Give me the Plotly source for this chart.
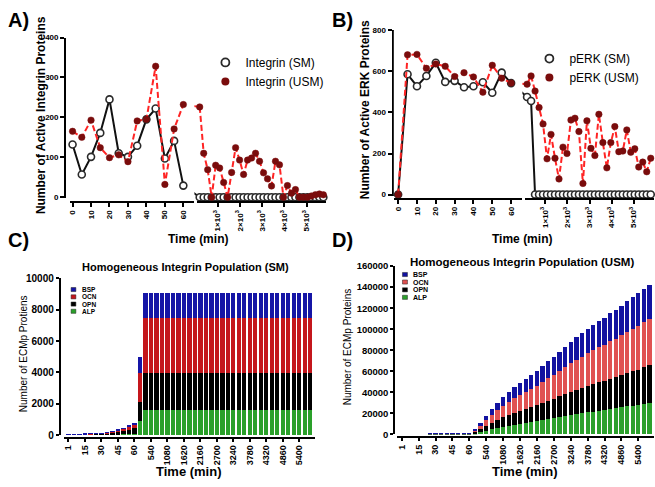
import plotly.graph_objects as go

W, H = 655, 487
FONT = "Liberation Sans, Arial, sans-serif"

# ---------------- data ----------------
t_early = [0, 5, 10, 15, 20, 25, 30, 35, 40, 45, 50, 55, 60]
t_late = [180, 360, 540, 720, 900, 1080, 1260, 1440, 1620, 1800, 1980, 2160, 2340, 2520, 2700, 2880,
          3060, 3240, 3420, 3600, 3780, 3960, 4140, 4320, 4500, 4680, 4860, 5040, 5220, 5400, 5580, 5760]

a_sm_early = [132, 57, 101, 161, 245, 110, 101, 129, 195, 222, 97, 141, 29]
a_usm_early = [165, 150, 193, 124, 99, 106, 89, 191, 195, 328, 32, 171, 232]
a_sm_late = [0, 0, 0, 0, 0, 0, 0, 0, 0, 0, 0, 0, 0, 0, 0, 0,
             0, 0, 0, 0, 0, 0, 0, 0, 0, 0, 0, 0, 0, 0, 0, 0]
a_usm_late = [226, 110, 69, 0, 80, 73, 37, 0, 62, 124, 93, 57, 93, 98, 110, 90,
              61, 46, 28, 90, 81, 0, 29, 10, 19, 0, 0, 0, 3, 6, 8, 6]

b_sm_early = [0, 586, 528, 578, 642, 549, 554, 523, 528, 547, 496, 594, 543]
b_usm_early = [0, 681, 683, 615, 636, 625, 575, 594, 573, 499, 630, 567, 543]
b_sm_late = [475, 456, 0, 0, 0, 0, 0, 0, 0, 0, 0, 0, 0, 0, 0, 0,
             0, 0, 0, 0, 0, 0, 0, 0, 0, 0, 0, 0, 0, 0, 0, 0]
b_usm_late = [538, 578, 504, 424, 344, 174, 293, 177, 76, 231, 200, 363, 372, 307, 54, 359,
              225, 190, 391, 253, 130, 253, 331, 209, 212, 315, 206, 223, 134, 158, 111, 177]

late_ticks = [1000, 2000, 3000, 4000, 5000]
late_ticktext = ["1×10<sup>3</sup>", "2×10<sup>3</sup>", "3×10<sup>3</sup>", "4×10<sup>3</sup>", "5×10<sup>3</sup>"]

bar_times = ["1", "5", "10", "15", "20", "25", "30", "35", "40", "45", "50", "55", "60",
             "180", "360", "540", "720", "900", "1080", "1260", "1440", "1620", "1800", "1980",
             "2160", "2340", "2520", "2700", "2880", "3060", "3240", "3420", "3600", "3780",
             "3960", "4140", "4320", "4500", "4680", "4860", "5040", "5220", "5400", "5580", "5760"]
bar_tick_labels = ["1", "15", "30", "45", "60", "540", "1080", "1620", "2160", "2700",
                   "3240", "3780", "4320", "4860", "5400"]

c_alp = [5, 5, 6, 7, 8, 10, 12, 20, 30, 40, 55, 70, 100, 890,
         1600, 1600, 1600, 1600, 1600, 1600, 1600, 1600, 1600, 1600, 1600, 1600, 1600, 1600, 1600, 1600,
         1600, 1600, 1600, 1600, 1600, 1600, 1600, 1600, 1600, 1600, 1600, 1600, 1600, 1600, 1600]
c_opn = [20, 20, 22, 25, 30, 40, 50, 75, 110, 150, 200, 260, 330, 1245,
         2350, 2350, 2350, 2350, 2350, 2350, 2350, 2350, 2350, 2350, 2350, 2350, 2350, 2350, 2350, 2350,
         2350, 2350, 2350, 2350, 2350, 2350, 2350, 2350, 2350, 2350, 2350, 2350, 2350, 2350, 2350]
c_ocn = [10, 10, 12, 13, 15, 20, 28, 40, 60, 90, 125, 170, 220, 1840,
         3500, 3500, 3500, 3500, 3500, 3500, 3500, 3500, 3500, 3500, 3500, 3500, 3500, 3500, 3500, 3500,
         3500, 3500, 3500, 3500, 3500, 3500, 3500, 3500, 3500, 3500, 3500, 3500, 3500, 3500, 3500]
c_bsp = [5, 5, 5, 5, 7, 10, 10, 15, 20, 30, 50, 60, 80, 1000,
         1650, 1650, 1650, 1650, 1650, 1650, 1650, 1650, 1650, 1650, 1650, 1650, 1650, 1650, 1650, 1650,
         1650, 1650, 1650, 1650, 1650, 1650, 1650, 1650, 1650, 1650, 1650, 1650, 1650, 1650, 1650]

d_alp = [0, 0, 0, 0, 0, 100, 100, 100, 100, 100, 100, 120, 150, 700,
         2300, 3600, 5000, 6300, 7400, 8400, 9400, 10200, 11000, 11800, 12600, 13700, 14600, 15500,
         16500, 17500, 18400, 19400, 20200, 21000, 21800, 22600, 23300, 24200, 24900, 25700, 26600,
         27400, 28100, 29100, 30000]
d_opn = [0, 0, 0, 0, 0, 300, 300, 300, 300, 300, 320, 340, 400, 2400,
         2800, 4400, 6000, 7500, 8900, 10100, 11300, 12200, 13100, 14100, 15100, 16300, 17400, 18400,
         19600, 20800, 21900, 23100, 24000, 25000, 26000, 26900, 27800, 28700, 29600, 30600, 31600,
         32600, 33500, 34600, 35600]
d_ocn = [0, 0, 0, 0, 0, 200, 200, 200, 200, 200, 220, 240, 300, 900,
         3400, 5400, 7400, 9300, 11000, 12500, 14000, 15200, 16200, 17500, 18700, 20200, 21500, 22900,
         24300, 25900, 27200, 28600, 29800, 31000, 32300, 33400, 34400, 35700, 36700, 38000, 39200,
         40400, 41500, 42900, 44000]
d_bsp = [0, 0, 0, 0, 0, 100, 100, 100, 100, 100, 100, 110, 150, 600,
         2500, 4100, 5600, 6900, 8200, 9300, 10300, 11200, 12000, 12900, 13900, 15000, 16000, 17000,
         18100, 19200, 20200, 21200, 22000, 23000, 23900, 24800, 25500, 26400, 27300, 28200, 29100,
         29900, 30900, 31900, 32600]

# ---------------- geometry helpers ----------------
def fx(px):
    return px / W

def fy(py):
    return 1 - py / H

def lin(v, rng, dom):
    return dom[0] + (v - rng[0]) / (rng[1] - rng[0]) * (dom[1] - dom[0])

A_L_DOM, A_L_RNG = (68, 193), (-1.5, 66)
A_R_DOM, A_R_RNG = (196, 325), (76, 5880)
B_L_DOM, B_L_RNG = (393, 522), (-2.3, 66)
B_R_DOM, B_R_RNG = (525, 654), (104, 5908)

SM_LINE = "#111111"
USM_LINE = "#ff2424"
USM_MARK = "#7a0c0c"

fig = go.Figure()

def add_series(xe, xb, xl, yax, y_early, y_late, kind):
    if kind == "sm":
        line = dict(color=SM_LINE, width=2)
        marker = dict(symbol="circle", size=7, color="white", line=dict(color="#2a2a2a", width=1.6))
    else:
        line = dict(color=USM_LINE, width=2, dash="6px,3px")
        marker = dict(symbol="circle", size=6.5, color=USM_MARK, line=dict(color=USM_MARK, width=0.5))
    fig.add_trace(go.Scatter(x=[t_early[-1], t_late[0]], y=[y_early[-1], y_late[0]],
                             xaxis=xb, yaxis=yax, mode="lines", line=line,
                             showlegend=False, hoverinfo="skip"))
    fig.add_trace(go.Scatter(x=t_early, y=y_early, xaxis=xe, yaxis=yax, mode="lines+markers",
                             line=line, marker=marker, showlegend=False, cliponaxis=False))
    fig.add_trace(go.Scatter(x=t_late, y=y_late, xaxis=xl, yaxis=yax, mode="lines+markers",
                             line=line, marker=marker, showlegend=False, cliponaxis=False))

# Panel A  (bridge x, left x2, right x3)
add_series("x2", "x", "x3", "y", a_sm_early, a_sm_late, "sm")
add_series("x2", "x", "x3", "y", a_usm_early, a_usm_late, "usm")
# Panel B  (bridge x4, left x5, right x6)
add_series("x5", "x4", "x6", "y2", b_sm_early, b_sm_late, "sm")
add_series("x5", "x4", "x6", "y2", b_usm_early, b_usm_late, "usm")

# legend entries (marker only)
for name, lg, kind in [("Integrin (SM)", "legend", "sm"), ("Integrin (USM)", "legend", "usm"),
                       ("pERK (SM)", "legend2", "sm"), ("pERK (USM)", "legend2", "usm")]:
    if kind == "sm":
        mk = dict(symbol="circle", size=8, color="white", line=dict(color="#2a2a2a", width=1.8))
    else:
        mk = dict(symbol="circle", size=8, color=USM_MARK)
    fig.add_trace(go.Scatter(x=[None], y=[None], xaxis="x2" if lg == "legend" else "x5",
                             yaxis="y" if lg == "legend" else "y2", mode="markers",
                             marker=mk, name=name, legend=lg, showlegend=True))

# Panel C / D bars
C_COL = {"ALP": "#2aa02a", "OPN": "#000000", "OCN": "#c4161c", "BSP": "#1515a6"}
D_COL = {"ALP": "#2ca02c", "OPN": "#000000", "OCN": "#e05252", "BSP": "#1212a0"}
for name, vals in [("ALP", c_alp), ("OPN", c_opn), ("OCN", c_ocn), ("BSP", c_bsp)]:
    fig.add_trace(go.Bar(x=bar_times, y=vals, xaxis="x7", yaxis="y3", name=name,
                         marker=dict(color=C_COL[name], line=dict(width=0)), showlegend=False))
for name, vals in [("ALP", d_alp), ("OPN", d_opn), ("OCN", d_ocn), ("BSP", d_bsp)]:
    fig.add_trace(go.Bar(x=bar_times, y=vals, xaxis="x8", yaxis="y4", name=name,
                         marker=dict(color=D_COL[name], line=dict(width=0)), showlegend=False))

# ---------------- axes ----------------
def xax(dom, rng, pos_py, **kw):
    d = dict(domain=[fx(dom[0]), fx(dom[1])], range=list(rng), anchor="free", position=fy(pos_py),
             showline=True, linecolor="black", linewidth=2, ticks="outside", ticklen=4, tickwidth=1.5,
             tickcolor="black", showgrid=False, zeroline=False, tickangle=-90,
             tickfont=dict(family=FONT, size=8, color="black", weight="bold"))
    d.update(kw)
    return d

def yax(dom, rng, pos_px, **kw):
    d = dict(domain=[fy(dom[0]), fy(dom[1])], range=list(rng), anchor="free", position=fx(pos_px),
             showline=True, linecolor="black", linewidth=2, ticks="outside", ticklen=4, tickwidth=1.5,
             tickcolor="black", showgrid=False, zeroline=False, tickformat="d",
             tickfont=dict(family=FONT, size=8, color="black", weight="bold"))
    d.update(kw)
    return d

A_bridge = (lin(t_early[-1], A_L_RNG, A_L_DOM), lin(t_late[0], A_R_RNG, A_R_DOM))
B_bridge = (lin(t_early[-1], B_L_RNG, B_L_DOM), lin(t_late[0], B_R_RNG, B_R_DOM))

layout = dict(
    width=W, height=H, autosize=False,
    margin=dict(l=0, r=0, t=0, b=0, pad=0),
    paper_bgcolor="white", plot_bgcolor="white",
    font=dict(family=FONT, color="black"),
    barmode="stack", bargap=0.24,
    xaxis=dict(domain=[fx(A_bridge[0]), fx(A_bridge[1])], range=[t_early[-1], t_late[0]],
               visible=False, anchor="y"),
    xaxis2=xax(A_L_DOM, A_L_RNG, 201, tickmode="array", tickvals=[0, 10, 20, 30, 40, 50, 60]),
    xaxis3=xax(A_R_DOM, A_R_RNG, 201, tickmode="array", tickvals=late_ticks, ticktext=late_ticktext),
    yaxis=yax((197, 32.3), (-2.4, 400), 63.3, tickmode="array", tickvals=[0, 100, 200, 300, 400]),
    xaxis4=dict(domain=[fx(B_bridge[0]), fx(B_bridge[1])], range=[t_early[-1], t_late[0]],
                visible=False, anchor="y2"),
    xaxis5=xax(B_L_DOM, B_L_RNG, 197.5, tickmode="array", tickvals=[0, 10, 20, 30, 40, 50, 60]),
    xaxis6=xax(B_R_DOM, B_R_RNG, 197.5, tickmode="array", tickvals=late_ticks, ticktext=late_ticktext),
    yaxis2=yax((194.3, 25), (-4.75, 800), 391.7, tickmode="array", tickvals=[0, 200, 400, 600, 800]),
    xaxis7=xax((62, 314), (-0.85, 44.85), 442.5, type="category", tickmode="array",
               tickvals=bar_tick_labels, ticklen=3,
               tickfont=dict(family=FONT, size=9, color="black", weight="bold")),
    yaxis3=yax((440, 279.3), (0, 10000), 58, tickmode="array", tickvals=[0, 2000, 4000, 6000, 8000, 10000],
               ticklen=3, tickfont=dict(family=FONT, size=10, color="black", weight="bold")),
    xaxis8=xax((396, 654), (-0.88, 44.78), 442, type="category", tickmode="array",
               tickvals=bar_tick_labels, ticklen=3,
               tickfont=dict(family=FONT, size=9, color="black", weight="bold")),
    yaxis4=yax((439.3, 266.7), (0, 160000), 393, tickmode="array",
               tickvals=[0, 20000, 40000, 60000, 80000, 100000, 120000, 140000, 160000],
               ticklen=2.5, tickfont=dict(family=FONT, size=9.5, color="black", weight="bold")),
    legend=dict(x=fx(204), y=fy(43), xanchor="left", yanchor="top", bgcolor="rgba(0,0,0,0)",
                traceorder="normal", font=dict(family=FONT, size=12, color="black"), borderwidth=0),
    legend2=dict(x=fx(529), y=fy(39), xanchor="left", yanchor="top", bgcolor="rgba(0,0,0,0)",
                 traceorder="normal", font=dict(family=FONT, size=12, color="black"), borderwidth=0),
)
fig.update_layout(**layout)

# ---------------- text ----------------
ann = []
def text(px, py, s, size, bold=True, angle=0, xanchor="center"):
    ann.append(dict(x=fx(px), y=fy(py), xref="paper", yref="paper", text=s, showarrow=False,
                    xanchor=xanchor, yanchor="middle", textangle=angle,
                    font=dict(family=FONT, size=size, color="black", weight="bold" if bold else "normal")))

text(4, 14, "A)", 20, xanchor="left")
text(329, 14, "B)", 20, xanchor="left")
text(4, 240, "C)", 20, xanchor="left")
text(329, 240, "D)", 20, xanchor="left")
text(39, 112, "Number of Active Integrin Proteins", 12, angle=-90)
text(364, 106, "Number of Active ERK Proteins", 12, angle=-90)
text(197, 239, "Time (min)", 12)
text(522, 239, "Time (min)", 12)
text(184, 268, "Homogeneous Integrin Population (SM)", 11)
text(522, 262, "Homogeneous Integrin Population (USM)", 11.5)
text(21, 356, "Number of ECMp Protiens", 10, bold=False, angle=-90)
text(346, 349, "Number of ECMp Proteins", 10, bold=False, angle=-90)
text(188, 477, "Time (min)", 13)
text(525, 477, "Time (min)", 13)

# compact legends for the bar panels
shapes = []
def leg_items(x0, ys, w, h, tx, size, cols):
    for (name, yc) in zip(["BSP", "OCN", "OPN", "ALP"], ys):
        shapes.append(dict(type="rect", xref="paper", yref="paper",
                           x0=fx(x0), x1=fx(x0 + w), y0=fy(yc + h / 2), y1=fy(yc - h / 2),
                           fillcolor=cols[name], line=dict(color="#222", width=0.5)))
        text(tx, yc, name, size, xanchor="left")

leg_items(69.3, [290.7, 298.2, 305.6, 313], 4.8, 4.2, 78.5, 6.5, C_COL)
leg_items(401.7, [275.3, 283, 291, 298.7], 5, 4.2, 410.5, 7, D_COL)

fig.update_layout(annotations=ann, shapes=shapes)

fig.write_html("out.html", config={"displayModeBar": False},
               post_script="document.body.style.margin='0px';")
